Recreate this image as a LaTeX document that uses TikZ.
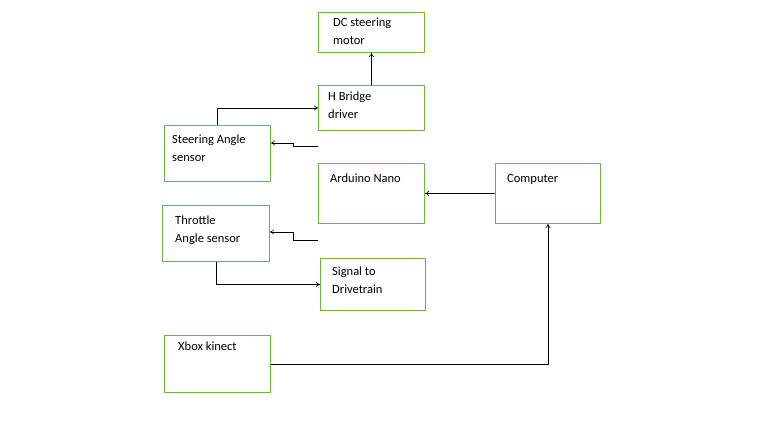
\documentclass[tikz,border=0pt]{standalone}
\usepackage{fontspec}
\setmainfont{Carlito}
\usetikzlibrary{arrows.meta}
\definecolor{boxgreen}{RGB}{112,180,70}
\tikzset{
  blk/.style={draw=boxgreen, line width=0.9pt, anchor=north west, inner sep=0pt},
  txt/.style={anchor=north west, inner sep=0pt, align=left, font=\fontsize{12.5}{18}\selectfont},
  wire/.style={line width=0.6pt, -{To[length=4pt,width=5pt]}}
}
\begin{document}
\begin{tikzpicture}[x=1pt,y=-1pt]
                \useasboundingbox (0,0) rectangle (768,433);
                % Boxes
                \node[blk, minimum width=106, minimum height=40] (dc) at (318,12) {};
                \node[blk, minimum width=106, minimum height=45] (hb) at (318,85) {};
                \node[blk, minimum width=106, minimum height=56] (sas) at (164,125) {};
                \node[blk, minimum width=106, minimum height=60] (nano) at (318,163) {};
                \node[blk, minimum width=105, minimum height=60] (pc) at (495,163) {};
                \node[blk, minimum width=107, minimum height=56] (tas) at (162,205) {};
                \node[blk, minimum width=105, minimum height=52] (sig) at (320,258) {};
                \node[blk, minimum width=106, minimum height=57] (xbox) at (164,335) {};

                % Texts
                \node[txt] (dct) at (333,18) {DC steering\\motor};
                \node[txt] (hbt) at (328,92) {H Bridge\\driver};
                \node[txt] (sast) at (172,135) {Steering Angle\\sensor};
                \node[txt] (nanot) at (330,174) {Arduino Nano};
                \node[txt] (pct) at (507,174) {Computer};
                \node[txt] (tast) at (175,216) {Throttle\\Angle sensor};
                \node[txt] (sigt) at (332,267) {Signal to\\Drivetrain};
                \node[txt] (xboxt) at (178,342) {Xbox kinect};

                % Connectors
                \draw[wire] (hb.north) -- (dc.south);
                \draw[wire] (sas.north) |- (hb.west);
                \draw[wire] ([yshift=17]nano.north west) -| (293,143) -- (293,143 -| sas.east);
                \draw[wire] ([yshift=-16]nano.south west) -| (293,232) -- (293,232 -| tas.east);
                \draw[wire] (pc.west) -- (nano.east);
                \draw[wire] (tas.south) |- (sig.west);
                \draw[wire] (xbox.east) -| ([xshift=53]pc.south west);
\end{tikzpicture}
\end{document}
